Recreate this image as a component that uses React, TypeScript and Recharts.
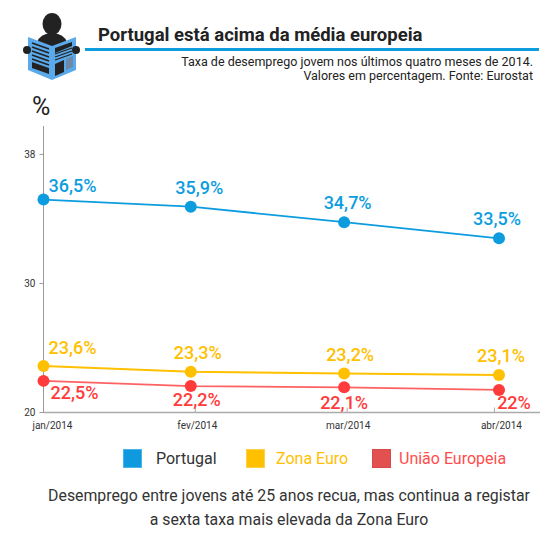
import React from "react";
import { LineChart, Line, XAxis, YAxis, LabelList } from "recharts";

const months = ["jan/2014", "fev/2014", "mar/2014", "abr/2014"];
const monthPos = [0, 0.97, 1.98, 3];
const tickPos = [0, 1, 2, 2.97];
const yTicks = [20, 30, 40];
const yTickLabels = ["20", "30", "38"];
const portugal = [36.5, 35.95, 34.75, 33.5];
const zonaEuro = [23.6, 23.15, 23.02, 22.9];
const uniao = [22.45, 22.05, 21.95, 21.75];
const portugalLabels = ["36,5%", "35,9%", "34,7%", "33,5%"];
const zonaLabels = ["23,6%", "23,3%", "23,2%", "23,1%"];
const uniaoLabels = ["22,5%", "22,2%", "22,1%", "22%"];

const data = months.map((m, i) => ({
  x: monthPos[i],
  portugal: portugal[i],
  zona: zonaEuro[i],
  uniao: uniao[i],
}));

const F = "Roboto, sans-serif";
const BLUE = "#0d9ddf";
const YEL = "#ffc000";
const RED = "#ff3b3b";

const xTickDx = [9, 2, 1, 7];

function XTick(props: any) {
  const { x, index } = props;
  const axisY = 412.5;
  return (
    <g>
      {index > 0 && <line x1={x} x2={x} y1={axisY} y2={axisY - 5} stroke="#aaa" />}
      <text x={x + xTickDx[index]} y={axisY + 16} textAnchor="middle" fontFamily={F} fontSize={10} fill="#333">
        {months[index]}
      </text>
    </g>
  );
}

function makeLabel(labels: string[], color: string, dxs: number[], dys: number[]) {
  return (props: any) => {
    const { x, y, index } = props;
    return (
      <text x={x + dxs[index]} y={y + dys[index]} textAnchor="middle" fontFamily={F} fontSize={18} fontWeight={500} fill={color}>
        {labels[index]}
      </text>
    );
  };
}

const dot = (fill: string) => ({ r: 6, fill, stroke: fill, strokeWidth: 0 });

function Icon() {
  return (
    <svg width={60} height={70} viewBox="0 0 60 70" style={{ position: "absolute", left: 22, top: 12 }}>
      <ellipse cx={30} cy={12} rx={9.5} ry={11} fill="#222" />
      <path d="M14 36 Q15 24 24 22 L36 22 Q45 24 46 36 Z" fill="#222" />
      <path d="M6 25 L30 34 L54 25 L54 58 L30 68 L6 58 Z" fill="#5aa9ea" />
      <path d="M19 27 L41 27 L30 33 Z" fill="#222" />
      {[31, 35, 39, 43, 47].map((y) => (
        <path key={y} d={`M10 ${y} L27 ${y + 6}`} stroke="#222" strokeWidth={1.6} />
      ))}
      <path d="M10 50 L27 56 L27 62 L10 56 Z" fill="#222" />
      <path d="M33 36 L50 30 L50 34 L33 41 Z" fill="#222" />
      {[42, 45, 48].map((y) => (
        <path key={y} d={`M33 ${y} L50 ${y - 6}`} stroke="#222" strokeWidth={1.2} />
      ))}
      <path d="M33 52 L42 48 L42 60 L33 64 Z" fill="#222" />
      <path d="M44 47 L51 44 L51 55 L44 58 Z" fill="#6c8aa8" />
      <circle cx={5} cy={38} r={4} fill="#222" />
      <circle cx={54} cy={38} r={4} fill="#222" />
    </svg>
  );
}

function LegendItem({ left, color, border, text, textLeft, textColor }: any) {
  return (
    <>
      <div style={{ position: "absolute", left, top: 449, width: 19, height: 19, background: color, boxSizing: "border-box", border: `1px solid ${border}` }} />
      <div style={{ position: "absolute", left: textLeft, top: 449, fontFamily: F, fontSize: 16, lineHeight: "20px", color: textColor, whiteSpace: "nowrap" }}>{text}</div>
    </>
  );
}

export default function App() {
  return (
    <div style={{ position: "absolute", left: 0, top: 0, width: 560, height: 544, background: "#fff", overflow: "hidden" }}>
      <Icon />
      <div style={{ position: "absolute", left: 98, top: 23, fontFamily: F, fontWeight: 700, fontSize: 18.5, lineHeight: "24px", color: "#222", whiteSpace: "nowrap" }}>
        Portugal está acima da média europeia
      </div>
      <div style={{ position: "absolute", left: 85, top: 48, width: 454, height: 2.5, background: BLUE }} />
      <div style={{ position: "absolute", right: 27, top: 55, fontFamily: F, fontSize: 12.5, lineHeight: "14px", color: "#222", textAlign: "right", whiteSpace: "nowrap" }}>
        Taxa de desemprego jovem nos últimos quatro meses de 2014.
        <br />
        Valores em percentagem. Fonte: Eurostat
      </div>
      <div style={{ position: "absolute", left: 32, top: 93, fontFamily: F, fontSize: 25, lineHeight: "28px", color: "#222" }}>%</div>

      <div style={{ position: "absolute", left: 0, top: 0 }}>
        <LineChart width={560} height={544} data={data} margin={{ top: 126, right: 20, bottom: 99.5, left: 0 }}>
          <XAxis
            dataKey="x"
            type="number"
            domain={[0, 3.27]}
            ticks={tickPos}
            axisLine={{ stroke: "#aaa", strokeWidth: 1.5 }}
            tickLine={false}
            tick={<XTick />}
            height={32}
            interval={0}
          />
          <YAxis
            type="number"
            domain={[20, 42.2]}
            ticks={yTicks}
            tickFormatter={(v: number) => yTickLabels[yTicks.indexOf(v)]}
            axisLine={{ stroke: "#999" }}
            tickLine={{ stroke: "#999" }}
            tickSize={4}
            tickMargin={4}
            tick={{ fontFamily: F, fontSize: 10, fill: "#333" }}
            width={43.5}
            interval={0}
          />
          <Line dataKey="portugal" stroke={BLUE} strokeWidth={1.8} dot={dot(BLUE)} isAnimationActive={false}>
            <LabelList content={makeLabel(portugalLabels, BLUE, [29, 8.5, 3.5, -2], [-8, -13, -13, -13])} />
          </Line>
          <Line dataKey="zona" stroke={YEL} strokeWidth={2} dot={dot(YEL)} isAnimationActive={false}>
            <LabelList content={makeLabel(zonaLabels, YEL, [29, 7, 6, 2], [-12, -13, -12.5, -13.5])} />
          </Line>
          <Line dataKey="uniao" stroke={RED} strokeWidth={1.8} strokeOpacity={0.8} dot={dot(RED)} isAnimationActive={false}>
            <LabelList content={makeLabel(uniaoLabels, RED, [31, 6, 0, 15], [18, 20, 21.5, 19.5])} />
          </Line>
        </LineChart>
      </div>

      <LegendItem left={123} color="#0f9ae0" border="#4db4e8" text="Portugal" textLeft={156} textColor="#333" />
      <LegendItem left={246} color="#ffc000" border="#ffcf4d" text="Zona Euro" textLeft={276} textColor="#ffc000" />
      <LegendItem left={372} color="#e25050" border="#d84a4a" text="União Europeia" textLeft={399} textColor="#ff4d4d" />

      <div style={{ position: "absolute", left: 0, width: 578, top: 484, textAlign: "center", fontFamily: F, fontSize: 15.85, lineHeight: "24px", color: "#333" }}>
        Desemprego entre jovens até 25 anos recua, mas continua a registar
        <br />a sexta taxa mais elevada da Zona Euro
      </div>
    </div>
  );
}
